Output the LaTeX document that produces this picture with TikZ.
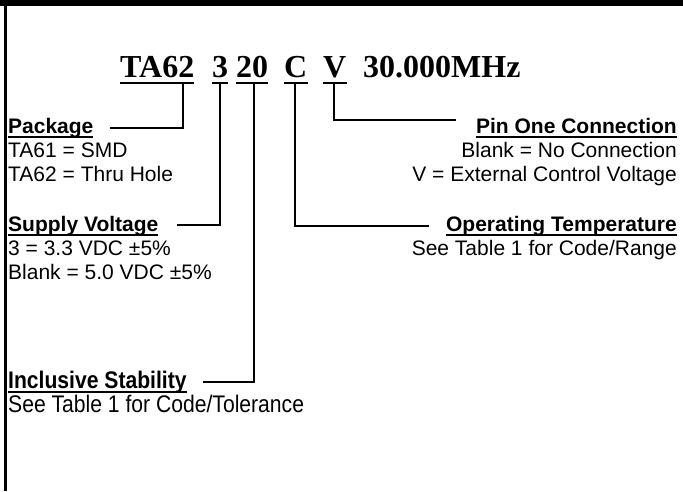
\documentclass[tikz,border=0pt]{standalone}
\usepackage{fontspec}
\setmainfont{Liberation Sans}
\newfontfamily\titlefont{Liberation Serif}
\newfontfamily\narrowfont[FakeStretch=0.88]{Liberation Sans}
\newcommand\ulhd[1]{\setbox0\hbox{#1}\rlap{\rule[-4.5pt]{\wd0}{2pt}}\box0}
\begin{document}
\begin{tikzpicture}[x=1pt,y=-1pt,
  conn/.style={line width=2.6pt},
  ttl/.style={font=\titlefont\bfseries\fontsize{32}{36}\selectfont, inner sep=0pt, anchor=base west},
  lbl/.style={font=\fontsize{21}{24}\selectfont, inner sep=0pt},
  hd/.style={font=\bfseries\fontsize{21}{24}\selectfont, inner sep=0pt},
  nlbl/.style={font=\narrowfont\fontsize{24}{27}\selectfont, inner sep=0pt},
  nhd/.style={font=\narrowfont\bfseries\fontsize{24}{27}\selectfont, inner sep=0pt}]
\useasboundingbox (0,0) rectangle (683,491);
% frame
\fill[black] (0,0) rectangle (683,6);
\fill[black] (4,0) rectangle (7,491);
% title parts
\node[ttl] (tA) at (120,77) {TA62};
\node[ttl] (tB) at (212,77) {3};
\node[ttl] (tC) at (236,77) {20};
\node[ttl] (tD) at (284,77) {C};
\node[ttl] (tE) at (323,77) {V};
\node[ttl] (tF) at (363,77) {30.000MHz};
\foreach \n in {tA,tB,tC,tD,tE}
  \draw[conn] ([yshift=-6pt]\n.base west) -- ([yshift=-6pt]\n.base east);
% left labels
\node[hd, anchor=base west] (pkg) at (8,133) {\ulhd{Package}};
\node[lbl, anchor=base west] (pkg1) at (8,157) {TA61 = SMD};
\node[lbl, anchor=base west] (pkg2) at (8,181) {TA62 = Thru Hole};
\node[hd, anchor=base west] (sv) at (8,231) {\ulhd{Supply Voltage}};
\node[lbl, anchor=base west] (sv1) at (8,255) {3 = 3.3 VDC ±5\%};
\node[lbl, anchor=base west] (sv2) at (8,279) {Blank = 5.0 VDC ±5\%};
\node[nhd, anchor=base west] (is) at (8,388) {\ulhd{Inclusive Stability}};
\node[nlbl, anchor=base west] (is1) at (8,412) {See Table 1 for Code/Tolerance};
% right labels
\node[hd, anchor=base east] (pin) at (677,133) {\ulhd{Pin One Connection}};
\node[lbl, anchor=base east] (pin1) at (677,157) {Blank = No Connection};
\node[lbl, anchor=base east] (pin2) at (677,181) {V = External Control Voltage};
\node[hd, anchor=base east] (ot) at (677,231) {\ulhd{Operating Temperature}};
\node[lbl, anchor=base east] (ot1) at (677,255) {See Table 1 for Code/Range};
% connector points
\coordinate (a1) at (183,83); \coordinate (a2) at (110,128);
\coordinate (b1) at (220,83); \coordinate (b2) at (177,225);
\coordinate (c1) at (254,83); \coordinate (c2) at (203,382);
\coordinate (d1) at (295,83); \coordinate (d2) at (429,226);
\coordinate (e1) at (334,83); \coordinate (e2) at (456,120);
\draw[conn] (a1) |- (a2);
\draw[conn] (b1) |- (b2);
\draw[conn] (c1) |- (c2);
\draw[conn] (d1) |- (d2);
\draw[conn] (e1) |- (e2);
\end{tikzpicture}
\end{document}
